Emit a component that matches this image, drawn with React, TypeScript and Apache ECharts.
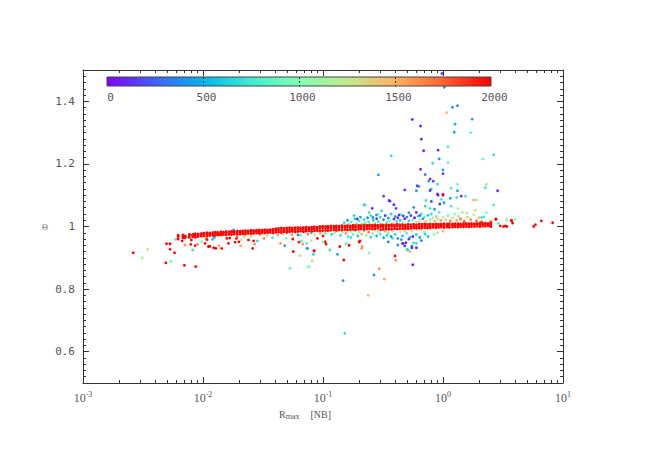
import React, { useEffect, useRef } from 'react';
import * as echarts from 'echarts';

// ---- axis tick values ----
const xMajor = [0.001, 0.01, 0.1, 1, 10];
const xMinor = [0.002, 0.003, 0.004, 0.005, 0.006, 0.007, 0.008, 0.009, 0.02, 0.03, 0.04, 0.05, 0.06, 0.07, 0.08, 0.09, 0.2, 0.3, 0.4, 0.5, 0.6, 0.7, 0.8, 0.9, 2, 3, 4, 5, 6, 7, 8, 9];
const yMajor = [0.6, 0.8, 1, 1.2, 1.4];
const yMinor = [0.52, 0.54, 0.56, 0.58, 0.62, 0.64, 0.66, 0.68, 0.7, 0.72, 0.74, 0.76, 0.78, 0.82, 0.84, 0.86, 0.88, 0.9, 0.92, 0.94, 0.96, 0.98, 1.02, 1.04, 1.06, 1.08, 1.1, 1.12, 1.14, 1.16, 1.18, 1.22, 1.24, 1.26, 1.28, 1.3, 1.32, 1.34, 1.36, 1.38, 1.42, 1.44, 1.46, 1.48];
const colorbarTicks = [0, 500, 1000, 1500, 2000];

// ---- dense red band (x, upper y, middle y, lower y) ----
const bandX = [0.0062, 0.0068, 0.0071, 0.0077, 0.0082, 0.0086, 0.0091, 0.0097, 0.0102, 0.0108,
  0.0114, 0.0121, 0.0127, 0.0133, 0.0141, 0.0148, 0.0156, 0.0165, 0.0173, 0.0182,
  0.0193, 0.0204, 0.0214, 0.0226, 0.0238, 0.0251, 0.0264, 0.0279, 0.0294, 0.031,
  0.0327, 0.0345, 0.0363, 0.0383, 0.0404, 0.0426, 0.0449, 0.0473, 0.0499, 0.0526,
  0.0555, 0.0585, 0.0617, 0.065, 0.0686, 0.0723, 0.0762, 0.0804, 0.0847, 0.0893,
  0.0942, 0.0993, 0.105, 0.11, 0.116, 0.123, 0.129, 0.136, 0.144, 0.152,
  0.16, 0.169, 0.178, 0.187, 0.198, 0.208, 0.22, 0.232, 0.244, 0.258,
  0.272, 0.286, 0.302, 0.318, 0.336, 0.354, 0.373, 0.394, 0.415, 0.437,
  0.461, 0.486, 0.513, 0.541, 0.57, 0.601, 0.634, 0.668, 0.705, 0.743,
  0.783, 0.826, 0.871, 0.918, 0.968, 1.02, 1.08, 1.13, 1.2, 1.26,
  1.33, 1.4, 1.48, 1.56, 1.64, 1.73, 1.83, 1.93, 2.03, 2.14,
  2.26, 2.38, 2.5];
const bandHi = [0.972, 0.973, 0.970, 0.975, 0.974, 0.977, 0.976, 0.978, 0.979, 0.980,
  0.979, 0.981, 0.982, 0.981, 0.983, 0.982, 0.984, 0.983, 0.985, 0.984,
  0.986, 0.985, 0.986, 0.987, 0.986, 0.988, 0.987, 0.988, 0.989, 0.988,
  0.990, 0.989, 0.990, 0.991, 0.993, 0.994, 0.995, 0.994, 0.995, 0.996,
  0.995, 0.996, 0.997, 0.996, 0.997, 0.998, 0.997, 0.998, 0.999, 0.998,
  1.000, 1.001, 1.000, 1.001, 1.002, 1.001, 1.002, 1.001, 1.003, 1.002,
  1.003, 1.002, 1.004, 1.003, 1.004, 1.003, 1.005, 1.004, 1.005, 1.004,
  1.005, 1.004, 1.005, 1.004, 1.006, 1.005, 1.006, 1.005, 1.007, 1.006,
  1.006, 1.005, 1.007, 1.006, 1.007, 1.006, 1.008, 1.007, 1.008, 1.007,
  1.008, 1.007, 1.008, 1.007, 1.008, 1.009, 1.008, 1.009, 1.008, 1.009,
  1.009, 1.008, 1.009, 1.010, 1.009, 1.010, 1.009, 1.010, 1.011, 1.010,
  1.011, 1.010, 1.011];
const bandMid = [0.967, 0.969, 0.968, 0.971, 0.972, 0.973, 0.973, 0.975, 0.976, 0.975,
  0.976, 0.977, 0.978, 0.978, 0.979, 0.979, 0.980, 0.980, 0.981, 0.981,
  0.982, 0.981, 0.983, 0.982, 0.983, 0.984, 0.983, 0.985, 0.984, 0.985,
  0.986, 0.985, 0.987, 0.986, 0.987, 0.988, 0.987, 0.988, 0.988, 0.989,
  0.990, 0.990, 0.991, 0.991, 0.991, 0.992, 0.992, 0.992, 0.993, 0.993,
  0.994, 0.995, 0.995, 0.995, 0.996, 0.996, 0.996, 0.996, 0.997, 0.997,
  0.997, 0.997, 0.998, 0.998, 0.998, 0.999, 0.999, 0.999, 1.000, 0.999,
  1.000, 1.000, 0.999, 0.999, 1.000, 1.000, 1.001, 1.000, 1.001, 1.001,
  1.000, 0.999, 1.000, 1.000, 1.001, 1.000, 1.001, 1.001, 1.002, 1.001,
  1.002, 1.002, 1.003, 1.002, 1.003, 1.003, 1.004, 1.003, 1.004, 1.004,
  1.005, 1.004, 1.005, 1.006, 1.005, 1.006, 1.006, 1.007, 1.006, 1.007,
  1.007, 1.007, 1.008];
const bandLo = [0.960, 0.963, 0.964, 0.965, 0.967, 0.966, 0.968, 0.969, 0.970, 0.969,
  0.971, 0.971, 0.972, 0.973, 0.973, 0.974, 0.973, 0.975, 0.974, 0.976,
  0.975, 0.976, 0.977, 0.976, 0.978, 0.977, 0.978, 0.979, 0.978, 0.980,
  0.979, 0.980, 0.981, 0.980, 0.981, 0.982, 0.981, 0.983, 0.982, 0.983,
  0.984, 0.983, 0.984, 0.985, 0.984, 0.985, 0.986, 0.985, 0.986, 0.987,
  0.986, 0.987, 0.988, 0.987, 0.988, 0.989, 0.988, 0.989, 0.989, 0.990,
  0.989, 0.990, 0.991, 0.990, 0.991, 0.992, 0.991, 0.992, 0.993, 0.992,
  0.993, 0.994, 0.990, 0.991, 0.992, 0.991, 0.992, 0.993, 0.992, 0.993,
  0.993, 0.994, 0.993, 0.994, 0.995, 0.994, 0.995, 0.995, 0.996, 0.995,
  0.996, 0.997, 0.996, 0.997, 0.998, 0.997, 0.998, 0.997, 0.998, 0.999,
  0.998, 0.999, 0.999, 1.000, 0.999, 1.000, 1.000, 1.001, 1.000, 1.001,
  1.001, 1.002, 1.001];
const bandValue = 1990;

// ---- scattered points [x, y, value] ----
const leftScatter = [
  [0.00262, 0.916, 2000], [0.00344, 0.927, 1300], [0.00312, 0.900, 1200], [0.00497, 0.945, 2000],
  [0.00531, 0.945, 2000], [0.00531, 0.927, 2000], [0.0058, 0.916, 2000], [0.0049, 0.884, 2000],
  [0.0054, 0.888, 900], [0.0059, 0.959, 850], [0.0070, 0.876, 2000], [0.0087, 0.872, 2000],
  [0.0067, 0.954, 2000], [0.0071, 0.941, 1600], [0.0075, 0.965, 800], [0.0080, 0.957, 2000],
  [0.0084, 0.975, 2000], [0.0087, 0.966, 1800], [0.0096, 0.975, 2000], [0.0082, 0.925, 700],
  [0.0079, 0.943, 2000], [0.0086, 0.939, 2000], [0.0090, 0.943, 1650], [0.0098, 0.951, 1100],
  [0.0104, 0.946, 2000], [0.0111, 0.936, 2000], [0.0114, 0.937, 2000], [0.0123, 0.932, 2000],
  [0.0128, 0.930, 2000], [0.0136, 0.939, 1550], [0.0143, 0.930, 2000], [0.0106, 0.962, 1600],
  [0.0108, 0.958, 2000], [0.0120, 0.959, 600], [0.0124, 0.965, 450], [0.0137, 0.975, 2000],
  [0.0158, 0.962, 2000], [0.0167, 0.963, 2000], [0.0185, 0.950, 2000], [0.019, 0.962, 2000],
  [0.0193, 0.967, 1700], [0.0163, 0.946, 2000], [0.0206, 0.938, 1550], [0.0199, 0.951, 2000],
  [0.0207, 0.957, 1200], [0.0222, 0.967, 1050], [0.0239, 0.957, 2000], [0.0259, 0.930, 2000],
  [0.0264, 0.954, 2000], [0.0269, 0.944, 1600], [0.0284, 0.954, 650], [0.0323, 0.962, 1650],
  [0.0379, 0.964, 750], [0.0442, 0.946, 1600], [0.048, 0.939, 400], [0.0565, 0.920, 2000],
  [0.053, 0.866, 850], [0.065, 0.907, 1150], [0.0731, 0.946, 800], [0.0737, 0.93, 420],
  [0.0831, 0.911, 650], [0.0846, 0.922, 2000], [0.0815, 0.890, 1350], [0.0768, 0.872, 1050],
  [0.063, 0.95, 2000], [0.0495, 0.962, 1000], [0.056, 0.96, 2000], [0.066, 0.954, 750],
  [0.09, 0.962, 2000], [0.08, 0.955, 1200], [0.1, 0.97, 2000], [0.018, 0.989, 400],
  [0.028, 0.986, 450], [0.062, 0.973, 300], [0.064, 0.907, 1300], [0.068, 0.944, 1600],
  [0.074, 0.93, 400], [0.083, 0.912, 700], [0.075, 0.87, 1000], [0.081, 0.89, 1250],
  [0.084, 0.923, 2000],
];

const lowerScatter = [
  [0.104, 0.951, 2000], [0.114, 0.925, 700], [0.138, 0.936, 2000], [0.157, 0.946, 1000],
  [0.171, 0.965, 700], [0.203, 0.954, 2000], [0.212, 0.936, 1600], [0.242, 0.916, 1050],
  [0.35, 0.951, 350], [0.42, 0.941, 380], [0.46, 0.946, 80], [0.48, 0.938, 120],
  [0.51, 0.925, 650], [0.55, 0.938, 420], [0.57, 0.948, 700], [0.152, 0.659, 700],
  [0.147, 0.827, 380], [0.266, 0.845, 420], [0.238, 0.78, 1500], [0.294, 0.865, 1600],
  [0.324, 0.832, 1550], [0.398, 0.906, 2000], [0.405, 0.892, 1600], [0.56, 0.878, 50],
  [0.55, 0.932, 100], [0.6, 0.932, 80], [0.5, 0.927, 650], [0.53, 0.92, 1500],
  [0.465, 0.946, 80], [0.49, 0.948, 100], [0.6, 0.946, 700], [0.21, 0.93, 1600],
  [0.132, 0.911, 420], [0.149, 0.893, 2000], [0.155, 0.944, 950], [0.165, 0.94, 2000],
  [0.2, 0.95, 2000], [0.106, 0.944, 2000], [0.1, 0.95, 1000], [0.6, 0.973, 700],
  [0.64, 0.965, 400], [0.71, 0.976, 650], [0.84, 0.975, 1000], [0.52, 0.96, 100],
  [0.56, 0.968, 80], [0.45, 0.958, 450], [0.38, 0.962, 700], [0.66, 0.955, 350],
  [0.75, 0.968, 550], [0.9, 0.98, 1200], [1.0, 0.985, 1500],
];

const nearBandBelow = [
  [0.1, 0.982, 1200], [0.105, 0.978, 800], [0.11, 0.985, 1500], [0.118, 0.975, 650],
  [0.125, 0.98, 1000], [0.13, 0.986, 1350], [0.14, 0.972, 700], [0.145, 0.983, 1100],
  [0.155, 0.978, 1600], [0.162, 0.968, 750], [0.17, 0.984, 1250], [0.178, 0.975, 900],
  [0.185, 0.988, 1650], [0.195, 0.97, 600], [0.2, 0.982, 1050], [0.21, 0.976, 1450],
  [0.22, 0.986, 800], [0.23, 0.972, 1150], [0.24, 0.982, 1700], [0.25, 0.966, 650],
  [0.26, 0.978, 1000], [0.27, 0.988, 1350], [0.28, 0.97, 500], [0.29, 0.984, 1200],
  [0.3, 0.976, 750], [0.32, 0.964, 450], [0.33, 0.985, 1550], [0.34, 0.972, 700],
  [0.35, 0.98, 950], [0.37, 0.968, 400], [0.38, 0.986, 1300], [0.4, 0.975, 650],
  [0.42, 0.962, 350], [0.44, 0.983, 1100], [0.46, 0.97, 600], [0.48, 0.988, 1500],
  [0.5, 0.978, 800], [0.53, 0.965, 550], [0.55, 0.985, 1250], [0.6, 0.975, 700],
  [0.65, 0.99, 1400], [0.7, 0.982, 1000],
  [0.022, 0.972, 1500], [0.025, 0.968, 1300], [0.03, 0.975, 1650], [0.034, 0.97, 1200],
  [0.038, 0.978, 800], [0.042, 0.972, 1550], [0.046, 0.976, 1400], [0.05, 0.98, 700],
  [0.055, 0.974, 1600], [0.06, 0.978, 1100], [0.065, 0.972, 900], [0.07, 0.982, 1450],
  [0.075, 0.976, 1650], [0.08, 0.98, 600], [0.085, 0.974, 1300], [0.09, 0.984, 1000],
  [0.095, 0.978, 1550],
];

const nearBandAbove = [
  [0.15, 1.012, 700], [0.16, 1.02, 450], [0.165, 1.008, 1000], [0.172, 1.015, 800],
  [0.18, 1.005, 1200], [0.185, 1.025, 600], [0.19, 1.01, 900], [0.2, 1.018, 750],
  [0.205, 1.03, 500], [0.21, 1.008, 1100], [0.22, 1.022, 650], [0.225, 1.012, 950],
  [0.235, 1.028, 400], [0.24, 1.015, 800], [0.25, 1.035, 700], [0.255, 1.006, 1300],
  [0.262, 1.02, 600], [0.27, 1.012, 1000], [0.28, 1.025, 150], [0.29, 1.016, 750],
  [0.3, 1.03, 650], [0.31, 1.01, 1150], [0.32, 1.022, 300], [0.33, 1.035, 100],
  [0.34, 1.014, 850], [0.35, 1.027, 500], [0.36, 1.018, 950], [0.37, 1.04, 650],
  [0.38, 1.01, 1250], [0.39, 1.024, 100], [0.4, 1.032, 400], [0.41, 1.016, 750],
  [0.42, 1.028, 120], [0.44, 1.02, 600], [0.45, 1.038, 700], [0.46, 1.012, 1000],
  [0.48, 1.025, 80], [0.5, 1.03, 350], [0.52, 1.018, 650], [0.54, 1.035, 150],
  [0.56, 1.022, 900], [0.58, 1.028, 50], [0.6, 1.015, 1100], [0.62, 1.033, 650],
  [0.64, 1.02, 1300], [0.66, 1.04, 700], [0.68, 1.025, 400], [0.7, 1.03, 850],
  [0.72, 1.017, 1400], [0.75, 1.036, 600], [0.78, 1.022, 1000], [0.8, 1.04, 700],
  [0.82, 1.027, 1200], [0.85, 1.018, 1500], [0.88, 1.032, 900], [0.9, 1.024, 1350],
  [0.93, 1.045, 800], [0.96, 1.02, 1600], [1.0, 1.03, 1100], [1.05, 1.022, 1450],
  [1.1, 1.035, 950], [1.15, 1.018, 1650], [1.2, 1.028, 1250], [1.25, 1.04, 1000],
  [1.3, 1.02, 1550], [1.35, 1.032, 1300], [1.4, 1.024, 1700], [1.45, 1.045, 1100],
  [1.5, 1.016, 1800], [1.6, 1.03, 1400], [1.7, 1.022, 1650], [1.8, 1.038, 1200],
  [1.9, 1.018, 1750], [2.0, 1.028, 1500], [2.1, 1.015, 1800],
];

const upperScatter = [
  [1.026, 1.445, 420], [1.32, 1.386, 380], [1.2, 1.381, 400], [1.07, 1.364, 1450],
  [1.75, 1.343, 420], [0.555, 1.342, 60], [0.65, 1.321, 80], [1.26, 1.327, 500],
  [1.24, 1.301, 450], [1.7, 1.30, 850], [0.66, 1.279, 80], [0.91, 1.244, 100],
  [0.69, 1.242, 70], [1.1, 1.255, 750], [0.37, 1.226, 700], [0.93, 1.216, 420],
  [0.82, 1.202, 700], [1.1, 1.204, 900], [2.15, 1.216, 850], [2.65, 1.229, 700],
  [0.65, 1.183, 100], [1.0, 1.181, 450], [1.0, 1.169, 100], [0.71, 1.166, 350],
  [0.29, 1.165, 420], [0.78, 1.152, 100], [0.76, 1.145, 420], [0.83, 1.145, 60],
  [0.61, 1.13, 80], [0.63, 1.128, 380], [0.9, 1.135, 700], [1.32, 1.135, 950],
  [2.3, 1.135, 1350], [2.25, 1.124, 750], [0.6, 1.114, 400], [0.48, 1.117, 80],
  [0.8, 1.12, 650], [0.78, 1.115, 100], [1.0, 1.103, 100], [1.0, 1.1, 2000],
  [1.17, 1.122, 800], [1.32, 1.114, 450], [1.42, 1.097, 100], [1.54, 1.097, 700],
  [2.85, 1.114, 80], [1.8, 1.085, 1550], [1.9, 1.085, 1150], [0.32, 1.097, 100],
  [0.355, 1.083, 70], [0.9, 1.104, 90], [0.91, 1.1, 70], [0.72, 1.083, 700],
  [0.8, 1.08, 100], [0.97, 1.087, 750], [0.39, 1.069, 400], [0.22, 1.069, 450],
  [1.3, 1.093, 700], [1.15, 1.09, 450], [0.98, 1.489, 100],
  [0.224, 1.069, 700], [0.257, 1.058, 50], [0.362, 1.081, 80], [0.406, 1.058, 100],
  [0.39, 1.07, 150], [0.308, 1.05, 600], [0.279, 1.037, 400], [0.181, 1.035, 650],
  [0.193, 1.024, 100], [0.242, 1.045, 700], [0.261, 1.029, 350], [0.29, 1.04, 950],
  [0.43, 1.037, 100], [0.466, 1.034, 50], [0.52, 1.044, 400], [0.57, 1.061, 350],
  [0.6, 1.045, 80], [0.64, 1.035, 120], [0.71, 1.065, 650], [0.78, 1.058, 700],
  [0.85, 1.055, 420], [0.94, 1.072, 100], [1.02, 1.076, 450], [1.17, 1.065, 750],
  [1.33, 1.058, 1000], [1.58, 1.044, 1150], [1.86, 1.052, 1300], [2.1, 1.029, 700],
  [2.3, 1.044, 1000], [2.64, 1.069, 750], [2.76, 1.024, 2000], [3.4, 1.019, 1100],
  [3.74, 1.019, 2000], [3.8, 1.011, 2000], [3.0, 1.002, 2000], [3.3, 1.002, 2000],
  [2.5, 1.005, 1600], [2.5, 1.016, 1700],
  [5.9, 1.006, 2000], [6.6, 1.018, 2000], [8.2, 1.012, 2000], [5.7, 1.0, 2000],
  [3.7, 1.019, 2000], [3.2, 1.0, 2000], [3.4, 1.0, 2000], [3.4, 1.023, 1100],
  [4.0, 1.023, 1150], [2.76, 1.023, 2000], [2.9, 1.01, 800], [2.2, 1.031, 750],
  [2.5, 1.0, 2000],
];

const rainbow = ['#8000ff', '#4062fa', '#00b5eb', '#40ecd4', '#80ffb4', '#c0eb8d', '#ffb360', '#ff6230', '#ff0000'];

const MONO = '"DejaVu Sans Mono", "Liberation Mono", monospace';
const SERIF = '"Liberation Serif", "DejaVu Serif", serif';
const AX = '#333333';
const LBL = '#555555';

export default function App() {
  const ref = useRef<HTMLDivElement>(null);
  useEffect(() => {
    if (!ref.current) return;
    const chart = echarts.init(ref.current, null, { renderer: 'svg' });

    const band: number[][] = [];
    bandX.forEach((x, i) => {
      band.push([x, bandHi[i], bandValue]);
      band.push([x, bandMid[i], bandValue]);
      band.push([x, bandLo[i], bandValue]);
    });

    const logAxisBase = {
      type: 'log' as const,
      logBase: 10,
      min: 0.001,
      max: 10,
      gridIndex: 0,
      splitLine: { show: false },
      minorTick: { show: false },
      minorSplitLine: { show: false },
    };
    const valAxisBase = {
      type: 'value' as const,
      min: 0.5,
      max: 1.5,
      gridIndex: 0,
      splitLine: { show: false },
    };

    const xLabelFormatter = (v: number) => {
      const e = Math.round(Math.log10(v));
      return `{b|10}{s|${e}}`;
    };

    const scatterBase = {
      type: 'scatter' as const,
      xAxisIndex: 0,
      yAxisIndex: 0,
      symbol: 'circle',
      symbolSize: 2.8,
      silent: true,
      itemStyle: { opacity: 1 },
    };

    const stops = rainbow.map((c, i) => ({ offset: i / (rainbow.length - 1), color: c }));

    chart.setOption({
      animation: false,
      backgroundColor: '#ffffff',
      grid: [
        { left: 83, top: 70, width: 480, height: 313, show: false },
        { left: 107, top: 77, width: 384, height: 9, show: false },
      ],
      xAxis: [
        {
          ...logAxisBase,
          position: 'bottom',
          axisLine: { show: true, lineStyle: { color: AX, width: 1 } },
          axisTick: { show: true, inside: true, length: 6, customValues: xMajor, lineStyle: { color: AX } },
          axisLabel: {
            show: true,
            customValues: xMajor,
            formatter: xLabelFormatter,
            margin: 7,
            color: LBL,
            rich: {
              b: { fontFamily: SERIF, fontSize: 12, color: LBL, lineHeight: 16 },
              s: { fontFamily: SERIF, fontSize: 8, color: LBL, lineHeight: 10, verticalAlign: 'top' },
            },
          },
        },
        {
          ...logAxisBase,
          position: 'bottom',
          axisLine: { show: false },
          axisTick: { show: true, inside: true, length: 3, customValues: xMinor, lineStyle: { color: AX } },
          axisLabel: { show: false },
        },
        {
          ...logAxisBase,
          position: 'top',
          axisLine: { show: true, lineStyle: { color: AX, width: 1 } },
          axisTick: { show: true, inside: true, length: 6, customValues: xMajor, lineStyle: { color: AX } },
          axisLabel: { show: false },
        },
        {
          ...logAxisBase,
          position: 'top',
          axisLine: { show: false },
          axisTick: { show: true, inside: true, length: 3, customValues: xMinor, lineStyle: { color: AX } },
          axisLabel: { show: false },
        },
        {
          type: 'value',
          gridIndex: 1,
          min: 0,
          max: 2000,
          interval: 500,
          position: 'bottom',
          z: 10,
          axisLine: { show: false },
          axisTick: { show: false },
          axisLabel: {
            show: true,
            customValues: colorbarTicks,
            formatter: (v: number) => String(v),
            margin: 6,
            padding: [0, 0, 0, 7],
            fontFamily: MONO,
            fontSize: 11,
            color: LBL,
          },
          splitLine: { show: true, showMinLine: false, showMaxLine: false, lineStyle: { color: '#333', width: 1, type: [2, 2] } },
        },
      ],
      yAxis: [
        {
          ...valAxisBase,
          position: 'left',
          axisLine: { show: true, lineStyle: { color: AX, width: 1 } },
          axisTick: { show: true, inside: true, length: 6, customValues: yMajor, lineStyle: { color: AX } },
          axisLabel: {
            show: true,
            customValues: yMajor,
            formatter: (v: number) => String(v),
            margin: 8,
            fontFamily: MONO,
            fontSize: 11,
            color: LBL,
          },
        },
        {
          ...valAxisBase,
          position: 'left',
          axisLine: { show: false },
          axisTick: { show: true, inside: true, length: 3, customValues: yMinor, lineStyle: { color: AX } },
          axisLabel: { show: false },
        },
        {
          ...valAxisBase,
          position: 'right',
          axisLine: { show: true, lineStyle: { color: AX, width: 1 } },
          axisTick: { show: true, inside: true, length: 6, customValues: yMajor, lineStyle: { color: AX } },
          axisLabel: { show: false },
        },
        {
          ...valAxisBase,
          position: 'right',
          axisLine: { show: false },
          axisTick: { show: true, inside: true, length: 3, customValues: yMinor, lineStyle: { color: AX } },
          axisLabel: { show: false },
        },
        { type: 'value', gridIndex: 1, min: 0, max: 1, show: false },
      ],
      visualMap: {
        type: 'continuous',
        show: false,
        min: 0,
        max: 2000,
        dimension: 2,
        seriesIndex: [0, 1, 2, 3, 4, 5],
        inRange: { color: rainbow },
      },
      graphic: [
        {
          type: 'rect',
          z: 5,
          shape: { x: 107, y: 77, width: 384, height: 9 },
          style: {
            fill: { type: 'linear', x: 0, y: 0, x2: 1, y2: 0, colorStops: stops },
            stroke: '#444',
            lineWidth: 1,
          },
        },
        {
          type: 'text',
          x: 45,
          y: 227,
          style: { text: 'Θ', fontSize: 8, fontFamily: SERIF, fill: LBL, align: 'center', verticalAlign: 'middle' },
        },
        {
          type: 'text',
          x: 279,
          y: 414,
          style: {
            text: '{r|R}{s|max}{n|[NB]}',
            verticalAlign: 'middle',
            rich: {
              r: { fontFamily: SERIF, fontSize: 10, fill: LBL, color: LBL, lineHeight: 12 },
              s: { fontFamily: SERIF, fontSize: 8, fill: LBL, color: LBL, lineHeight: 6, verticalAlign: 'bottom' },
              n: { fontFamily: SERIF, fontSize: 10, fill: LBL, color: LBL, lineHeight: 12, padding: [0, 0, 0, 11] },
            },
          },
        },
      ],
      series: [
        { ...scatterBase, data: leftScatter },
        { ...scatterBase, data: lowerScatter },
        { ...scatterBase, data: upperScatter },
        { ...scatterBase, data: nearBandBelow },
        { ...scatterBase, data: nearBandAbove },
        { ...scatterBase, data: band },
      ],
    });
    return () => chart.dispose();
  }, []);
  return <div ref={ref} style={{ position: 'fixed', left: 0, top: 0, width: 664, height: 465 }} />;
}
